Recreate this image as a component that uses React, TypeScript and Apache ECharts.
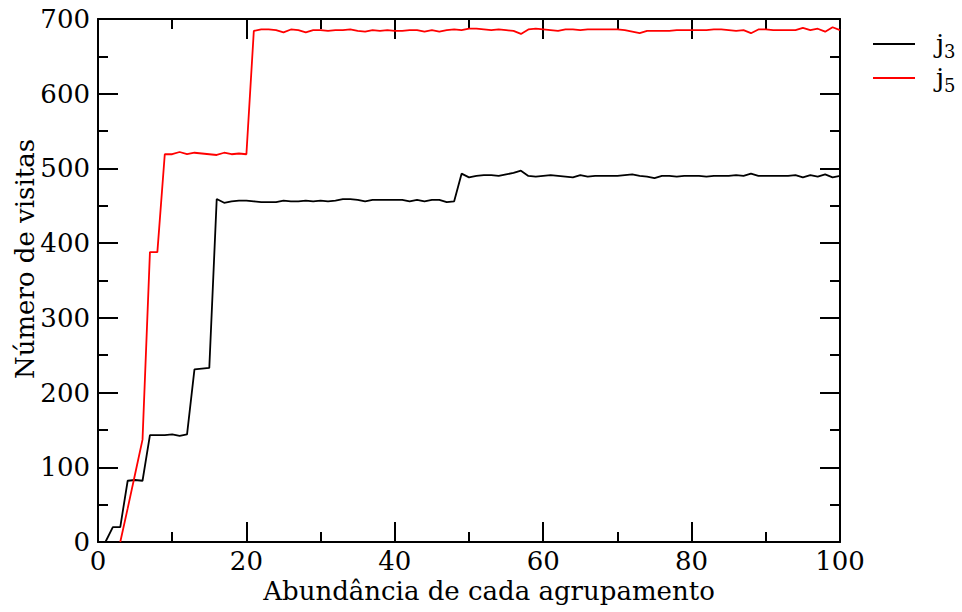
import React, { useEffect, useRef } from "react";
import * as echarts from "echarts";

// x of the first point of each series (points are at consecutive integers)
const j3Start = 1;
const j3Values = [
  0, 20, 20, 82, 83, 82, 143, 143, 143, 144,
  142, 144, 231, 232, 233, 459, 454, 456, 457, 457,
  456, 455, 455, 455, 457, 456, 456, 457, 456, 457,
  456, 457, 459, 459, 458, 456, 458, 458, 458, 458,
  458, 456, 458, 456, 458, 458, 455, 456, 493, 488,
  490, 491, 491, 490, 492, 494, 497, 490, 489, 490,
  491, 490, 489, 488, 491, 489, 490, 490, 490, 490,
  491, 492, 490, 489, 487, 490, 490, 489, 490, 490,
  490, 489, 490, 490, 490, 491, 490, 493, 490, 490,
  490, 490, 490, 491, 488, 491, 489, 492, 488, 490,
];

const j5Start = 3;
const j5Values = [
  0, 45, 91, 137, 388, 388, 519, 519,
  522, 519, 521, 520, 519, 518, 521, 519, 520, 519,
  684, 686, 686, 685, 682, 686, 685, 682, 685, 685,
  684, 685, 685, 686, 684, 683, 685, 684, 685, 684,
  684, 685, 685, 683, 685, 683, 685, 686, 685, 687,
  687, 686, 685, 686, 685, 684, 680, 686, 687, 686,
  685, 684, 686, 686, 685, 686, 686, 686, 686, 686,
  685, 683, 681, 684, 684, 684, 684, 685, 685, 685,
  685, 685, 686, 686, 685, 684, 685, 681, 686, 686,
  685, 685, 685, 685, 688, 685, 687, 683, 689, 685,
];

const seriesNames = ["j3", "j5"];
const seriesColors = ["#000000", "#ff0000"];
const xTitle = "Abundância de cada agrupamento";
const yTitle = "Número de visitas";
const xRange = [0, 100];
const yRange = [0, 700];
const xInterval = 20;
const yInterval = 100;

const toPairs = (start: number, vals: number[]) =>
  vals.map((v, i) => [start + i, v]);

export default function App() {
  const ref = useRef<HTMLDivElement>(null);
  useEffect(() => {
    document.body.style.margin = "0";
    const chart = echarts.init(ref.current!, null, { renderer: "svg" });
    const font = "DejaVu Serif";
    const lineStyle = { color: "#000", width: 2 };
    const mkAxis = (isX: boolean, mirror: boolean) => ({
      type: "value",
      min: isX ? xRange[0] : yRange[0],
      max: isX ? xRange[1] : yRange[1],
      interval: isX ? xInterval : yInterval,
      position: isX ? (mirror ? "top" : "bottom") : mirror ? "right" : "left",
      axisLine: { show: true, onZero: false, lineStyle },
      axisTick: { show: true, inside: true, length: 20, lineStyle },
      minorTick: { show: true, splitNumber: 2, length: 10, lineStyle },
      splitLine: { show: false },
      minorSplitLine: { show: false },
      axisLabel: {
        show: !mirror,
        color: "#000",
        fontFamily: font,
        fontSize: 26,
        margin: isX ? 6 : 8,
      },
    });
    chart.setOption({
      animation: false,
      grid: { left: 98, right: 122, top: 19, bottom: 70, containLabel: false },
      xAxis: [mkAxis(true, false), mkAxis(true, true)],
      yAxis: [mkAxis(false, false), mkAxis(false, true)],
      legend: {
        orient: "vertical",
        left: 868,
        top: 26,
        itemWidth: 42,
        itemHeight: 2,
        icon: "rect",
        itemGap: 5,
        data: seriesNames,
        formatter: (name: string) => `{a|${name.slice(0, 1)}}{s|${name.slice(1)}}`,
        textStyle: {
          color: "#000",
          fontFamily: font,
          fontSize: 26,
          padding: [0, 0, 0, 16],
          rich: {
            a: { fontFamily: font, fontSize: 26, color: "#000" },
            s: { fontFamily: font, fontSize: 18, color: "#000", padding: [14, 0, 0, 0] },
          },
        },
      },
      graphic: [
        {
          type: "text",
          x: 489,
          y: 591,
          style: {
            text: xTitle,
            fontFamily: font,
            fontSize: 26,
            fill: "#000",
            textAlign: "center",
            textVerticalAlign: "middle",
          },
        },
        {
          type: "text",
          x: 25,
          y: 259,
          rotation: Math.PI / 2,
          style: {
            text: yTitle,
            fontFamily: font,
            fontSize: 26,
            fill: "#000",
            textAlign: "center",
            textVerticalAlign: "middle",
          },
        },
      ],
      series: [
        {
          name: seriesNames[0],
          type: "line",
          symbol: "none",
          data: toPairs(j3Start, j3Values),
          lineStyle: { color: seriesColors[0], width: 1.8 },
          itemStyle: { color: seriesColors[0] },
        },
        {
          name: seriesNames[1],
          type: "line",
          symbol: "none",
          data: toPairs(j5Start, j5Values),
          lineStyle: { color: seriesColors[1], width: 1.8 },
          itemStyle: { color: seriesColors[1] },
        },
      ],
    });
    return () => chart.dispose();
  }, []);
  return <div ref={ref} style={{ width: 962, height: 612 }} />;
}
